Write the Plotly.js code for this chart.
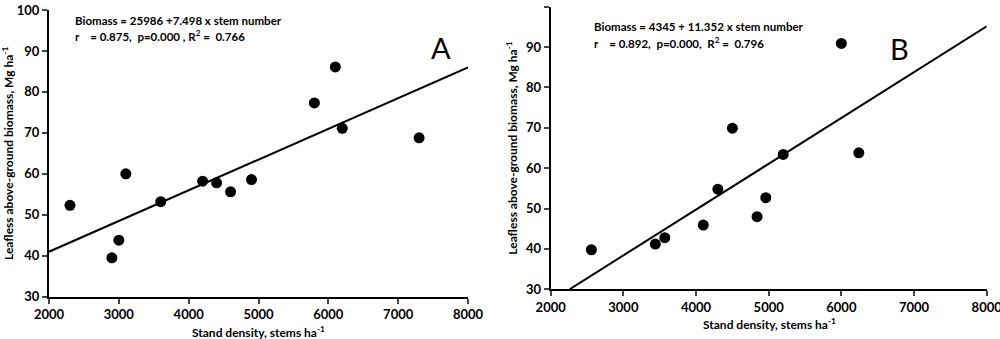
<!DOCTYPE html>
<html><head><meta charset="utf-8">
<script src="https://cdn.plot.ly/plotly-3.0.1.min.js"></script>
<style>body{margin:0;background:#fff}#c{width:1000px;height:339px}</style>
</head><body><div id="c"></div>
<script>
// Panel A data
const densityA = [2300, 2900, 3000, 3100, 3600, 4200, 4400, 4600, 4900, 5800, 6100, 6200, 7300];
const biomassA = [52.3, 39.5, 43.8, 60.0, 53.2, 58.2, 57.8, 55.6, 58.6, 77.3, 86.1, 71.1, 68.8];
const fitA = {intercept: 25.986, slope: 0.007498};
// Panel B data
const densityB = [2560, 3440, 3570, 4100, 4300, 4500, 4840, 4960, 5200, 6000, 6240];
const biomassB = [39.8, 41.2, 42.8, 45.9, 54.8, 69.9, 48.0, 52.7, 63.4, 90.9, 63.8];
const fitB = {intercept: 4.345, slope: 0.011352};
const xTicks = [2000, 3000, 4000, 5000, 6000, 7000, 8000];
const yTicks = [30, 40, 50, 60, 70, 80, 90, 100];
const xTitle = 'Stand density, stems ha<sup>-1</sup>';
const yTitle = 'Leafless above-ground biomass, Mg ha<sup>-1</sup>';

const F = 'Lato, "Open Sans", sans-serif';
const nb = s => s.replace(/ /g, '\u00A0');

function fitLine(fit, x0, x1) {
  const xs = [x0, x1];
  return {xs, ys: xs.map(x => fit.intercept + fit.slope * x)};
}
const lA = fitLine(fitA, 2000, 8000);
const xStartB = (30 - fitB.intercept) / fitB.slope;
const lB = fitLine(fitB, xStartB, 8000);

const mk = {color: '#000', size: 11};
const traces = [
  {x: densityA, y: biomassA, mode: 'markers', marker: mk, xaxis: 'x', yaxis: 'y', cliponaxis: false},
  {x: lA.xs, y: lA.ys, mode: 'lines', line: {color: '#000', width: 2}, xaxis: 'x', yaxis: 'y'},
  {x: densityB, y: biomassB, mode: 'markers', marker: mk, xaxis: 'x2', yaxis: 'y2', cliponaxis: false},
  {x: lB.xs, y: lB.ys, mode: 'lines', line: {color: '#000', width: 2}, xaxis: 'x2', yaxis: 'y2'}
];

function xax(domain, anchor) {
  return {domain, anchor, range: [2000, 8000], tickvals: xTicks, ticks: 'outside', ticklen: 5, tickwidth: 2,
    showline: true, linewidth: 2, linecolor: '#000', showgrid: false, zeroline: false,
    ticklabeloverflow: 'allow',
    tickfont: {family: F, size: 13, color: '#000', weight: 'bold'}};
}
function yax(domain, anchor) {
  return {domain, anchor, range: [30, 100], tickvals: yTicks, ticks: 'outside', ticklen: 5, tickwidth: 2,
    showline: true, linewidth: 2, linecolor: '#000', showgrid: false, zeroline: false,
    tickfont: {family: F, size: 13, color: '#000', weight: 'bold'},
    title: {text: yTitle, font: {family: F, size: 12, color: '#000', weight: 'bold'}, standoff: 6}};
}

const annF = {family: F, size: 11.5, color: '#000', weight: 'bold'};
const titF = {family: F, size: 12, color: '#000', weight: 'bold'};
function pa(x, yPx, text, font, xanchor) {
  return {xref: 'paper', yref: 'paper', x, y: 1 - yPx/339, xanchor: xanchor || 'left', yanchor: 'middle',
    showarrow: false, text, font};
}
const layout = {
  width: 1000, height: 339, showlegend: false,
  margin: {l: 0, r: 0, t: 0, b: 0},
  paper_bgcolor: '#fff', plot_bgcolor: '#fff',
  xaxis: xax([0.049, 0.468], 'y'),
  yaxis: yax([0.1248, 0.9705], 'x'),
  xaxis2: xax([0.5507, 0.9867], 'y2'),
  yaxis2: yax([0.1466, 0.9802], 'x2'),
  annotations: [
    pa(0.0727, 20.7, nb('Biomass = 25986 +7.498 x stem number'), annF),
    pa(0.0727, 35, nb('r    = 0.875,  p=0.000 , R<sup>2</sup> =  0.766'), annF),
    pa(0.441, 47, 'A', {family: F, size: 29, color: '#000'}, 'center'),
    pa(0.5917, 26.7, nb('Biomass = 4345 + 11.352 x stem number'), annF),
    pa(0.5917, 42.7, nb('r    = 0.892,  p=0.000,  R<sup>2</sup> =  0.796'), annF),
    pa(0.899, 48, 'B', {family: F, size: 29, color: '#000'}, 'center'),
    pa(0.258, 332, xTitle, titF, 'center'),
    pa(0.769, 324, xTitle, titF, 'center')
  ]
};
Plotly.newPlot('c', traces, layout, {displayModeBar: false, staticPlot: true});
</script></body></html>
